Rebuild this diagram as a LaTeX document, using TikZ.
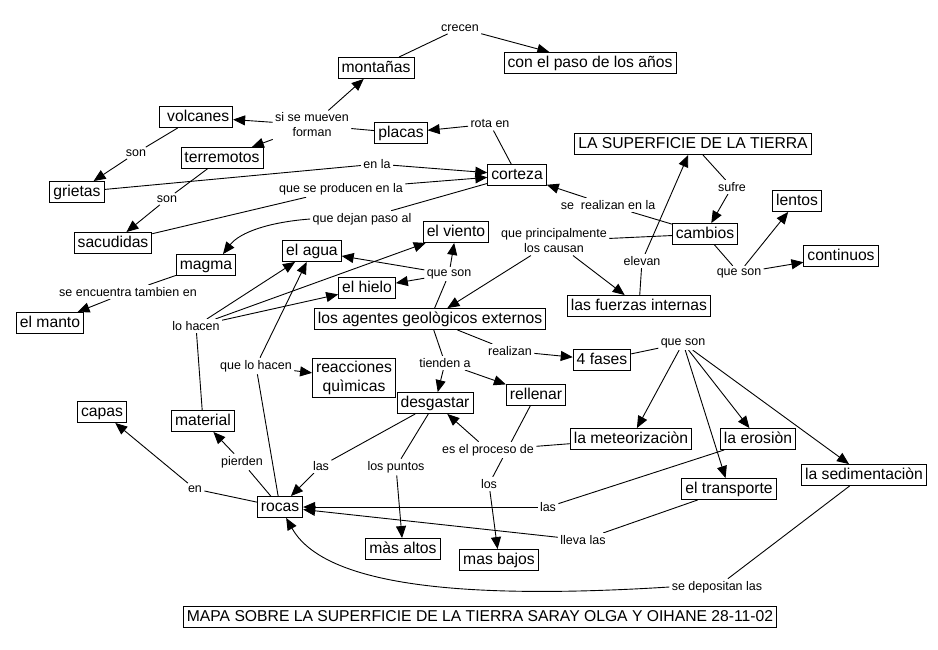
\documentclass[tikz,border=0pt]{standalone}
\usepackage{fontspec}
\setmainfont{Liberation Sans}
\usetikzlibrary{arrows.meta}
\pgfdeclarelayer{background}
\pgfsetlayers{background,main}
\tikzset{%
   % concept box, one line
   bx/.style={
      draw,
      fill=white,
      line width=0.9pt,
      inner xsep=3.5pt,
      inner ysep=3pt,
      align=center,
      font=\fontsize{15.7}{19}\selectfont
   },
   cn/.style={
      bx,
      text height=11.5pt,
      text depth=3.5pt
   },
   % linking words, no frame
   lk/.style={
      fill=white,
      inner sep=2pt,
      align=center,
      font=\fontsize{12.5}{15}\selectfont
   },
   ar/.style={
      -{Triangle[length=12pt, width=10pt]}
   },
   every path/.style={line width=0.9pt}
}

\begin{document}
\begin{tikzpicture}[x=1pt, y=-1pt]
   \path[use as bounding box] (0,0) rectangle (938,649);

   % concepts
   \node[cn] (montanas) at (376,68) {montañas};
   \node[cn] (paso) at (590,63) {con el paso de los años};
   \node[cn] (volcanes) at (196,117) {\ volcanes};
   \node[cn] (placas) at (401,133) {placas};
   \node[cn] (terremotos) at (222,158) {terremotos};
   \node[cn] (grietas) at (77,192) {grietas};
   \node[cn] (corteza) at (517,175) {corteza};
   \node[cn] (superficie) at (693,144) {LA SUPERFICIE DE LA TIERRA};
   \node[cn] (lentos) at (797,201) {lentos};
   \node[cn] (cambios) at (705,234) {cambios};
   \node[cn] (continuos) at (841,256) {continuos};
   \node[cn] (fuerzas) at (639,306) {las fuerzas internas};
   \node[cn] (sacudidas) at (113,243) {sacudidas};
   \node[cn] (magma) at (206,265) {magma};
   \node[cn] (agua) at (312,251) {el agua};
   \node[cn] (viento) at (456,232) {el viento};
   \node[cn] (hielo) at (367,288) {el hielo};
   \node[cn] (manto) at (50,323) {el manto};
   \node[cn] (agentes) at (430,319) {los agentes geològicos externos};
   \node[bx] (reacciones) at (354,378) {reacciones\\quìmicas};
   \node[cn] (desgastar) at (435,403) {desgastar};
   \node[cn] (rellenar) at (536,395) {rellenar};
   \node[cn] (fases) at (602,360) {4 fases};
   \node[cn] (capas) at (102,412) {capas};
   \node[cn] (material) at (203,421) {material};
   \node[cn] (rocas) at (280,507) {rocas};
   \node[cn] (altos) at (403,549) {màs altos};
   \node[cn] (bajos) at (499,560) {mas bajos};
   \node[cn] (meteor) at (631,439) {la meteorizaciòn};
   \node[cn] (erosion) at (758,439) {la erosiòn};
   \node[cn] (transporte) at (729,489) {el transporte};
   \node[cn] (sedim) at (864,475) {la sedimentaciòn};
   \node[cn] (titulo) at (480,617)
      {MAPA SOBRE LA SUPERFICIE DE LA TIERRA SARAY OLGA Y OIHANE 28-11-02};

   % linking words
   \node[lk] (crecen) at (460,28) {crecen};
   \node[lk] (mueven) at (312,125) {si se mueven\\forman};
   \node[lk] (rota) at (490,124) {rota en};
   \node[lk] (enla) at (377,164) {en la};
   \node[lk] (producen) at (341,189) {que se producen en la};
   \node[lk] (dejan) at (362,219) {que dejan paso al};
   \node[lk] (son1) at (136,153) {son};
   \node[lk] (son2) at (167,199) {son};
   \node[lk] (encuentra) at (128,292) {se encuentra tambien en};
   \node[lk] (sufre) at (732,187) {sufre};
   \node[lk] (realizanen) at (608,205) {se~ realizan en la};
   \node[lk] (causan) at (554,241) {que principalmente\\los causan};
   \node[lk] (elevan) at (642,261) {elevan};
   \node[lk] (queson1) at (739,273) {que son};
   \node[lk] (queson2) at (449,274) {que son};
   \node[lk] (lohacen) at (196,326) {lo hacen};
   \node[lk] (quelohacen) at (256,366) {que lo hacen};
   \node[lk] (tienden) at (445,363) {tienden a};
   \node[lk] (realizan) at (510,351) {realizan};
   \node[lk] (queson3) at (683,343) {que son};
   \node[lk] (proceso) at (488,450) {es el proceso de};
   \node[lk] (las1) at (321,466) {las};
   \node[lk] (puntos) at (396,467) {los puntos};
   \node[lk] (los) at (489,484) {los};
   \node[lk] (pierden) at (242,462) {pierden};
   \node[lk] (en) at (195,489) {en};
   \node[lk] (las2) at (548,507) {las};
   \node[lk] (lleva) at (583,540) {lleva las};
   \node[lk] (depositan) at (717,587) {se depositan las};

   \begin{pgfonlayer}{background}
   \fill[white] (0,0) rectangle (938,649);
   % upper part
   \draw (montanas) -- (crecen);
   \draw[ar] (crecen) -- (paso);
   \draw (placas) -- (mueven);
   \draw[ar] (mueven) -- (montanas);
   \draw[ar] (mueven) -- (volcanes);
   \draw[ar] (mueven) -- (terremotos);
   \draw (corteza) -- (rota);
   \draw[ar] (rota) -- (placas);
   \draw (grietas) -- (enla);
   \draw[ar] (enla) -- (corteza);
   \draw (sacudidas) -- (producen);
   \draw[ar] (producen) -- (corteza);
   \draw (corteza) -- (dejan);
   \draw[ar] (dejan.west) .. controls (270,222) and (240,232) .. ([xshift=17pt]magma.north);
   \draw (volcanes) -- (son1);
   \draw[ar] (son1) -- (grietas);
   \draw (terremotos) -- (son2);
   \draw[ar] (son2) -- (sacudidas);
   \draw (magma) -- (encuentra);
   \draw[ar] (encuentra) -- (manto);
   % right part
   \draw (superficie) -- (sufre);
   \draw[ar] (sufre) -- (cambios);
   \draw (cambios) -- (realizanen);
   \draw[ar] (realizanen) -- (corteza);
   \draw (cambios) -- (causan);
   \draw[ar] (causan) -- (agentes);
   \draw[ar] (causan) -- (fuerzas);
   \draw (fuerzas) -- (elevan);
   \draw[ar] (elevan) -- (superficie);
   \draw (cambios) -- (queson1);
   \draw[ar] (queson1) -- (lentos);
   \draw[ar] (queson1) -- (continuos);
   % agents
   \draw (agentes) -- (queson2);
   \draw[ar] (queson2) -- (agua);
   \draw[ar] (queson2) -- (hielo);
   \draw[ar] (queson2) -- (viento);
   \draw (material) -- (lohacen);
   \draw[ar] (lohacen) -- (agua);
   \draw[ar] (lohacen) -- (viento);
   \draw[ar] (lohacen) -- (hielo);
   \draw (rocas) -- (quelohacen);
   \draw[ar] (quelohacen) -- (agua);
   \draw[ar] (quelohacen) -- (reacciones);
   \draw (agentes) -- (tienden);
   \draw[ar] (tienden) -- (desgastar);
   \draw[ar] (tienden) -- (rellenar);
   \draw (agentes) -- (realizan);
   \draw[ar] (realizan) -- (fases);
   % phases
   \draw (fases) -- (queson3);
   \draw[ar] (queson3) -- (meteor);
   \draw[ar] (queson3) -- (erosion);
   \draw[ar] (queson3) -- (transporte);
   \draw[ar] (queson3) -- (sedim);
   \draw (meteor) -- (proceso);
   \draw[ar] (proceso) -- (desgastar);
   \draw (desgastar) -- (las1);
   \draw[ar] (las1) -- (rocas);
   \draw (desgastar) -- (puntos);
   \draw[ar] (puntos) -- (altos);
   \draw (rellenar) -- (los);
   \draw[ar] (los) -- (bajos);
   \draw (erosion) -- (las2);
   \draw[ar] (las2) -- (rocas);
   \draw (transporte) -- (lleva);
   \draw[ar] (lleva) -- (rocas);
   \draw (sedim) -- (depositan);
   \draw[ar] (depositan.west) .. controls (430,602) and (320,578) .. (rocas);
   \draw (rocas) -- (pierden);
   \draw[ar] (pierden) -- (material);
   \draw (rocas) -- (en);
   \draw[ar] (en) -- (capas);
   \end{pgfonlayer}
\end{tikzpicture}
\end{document}
